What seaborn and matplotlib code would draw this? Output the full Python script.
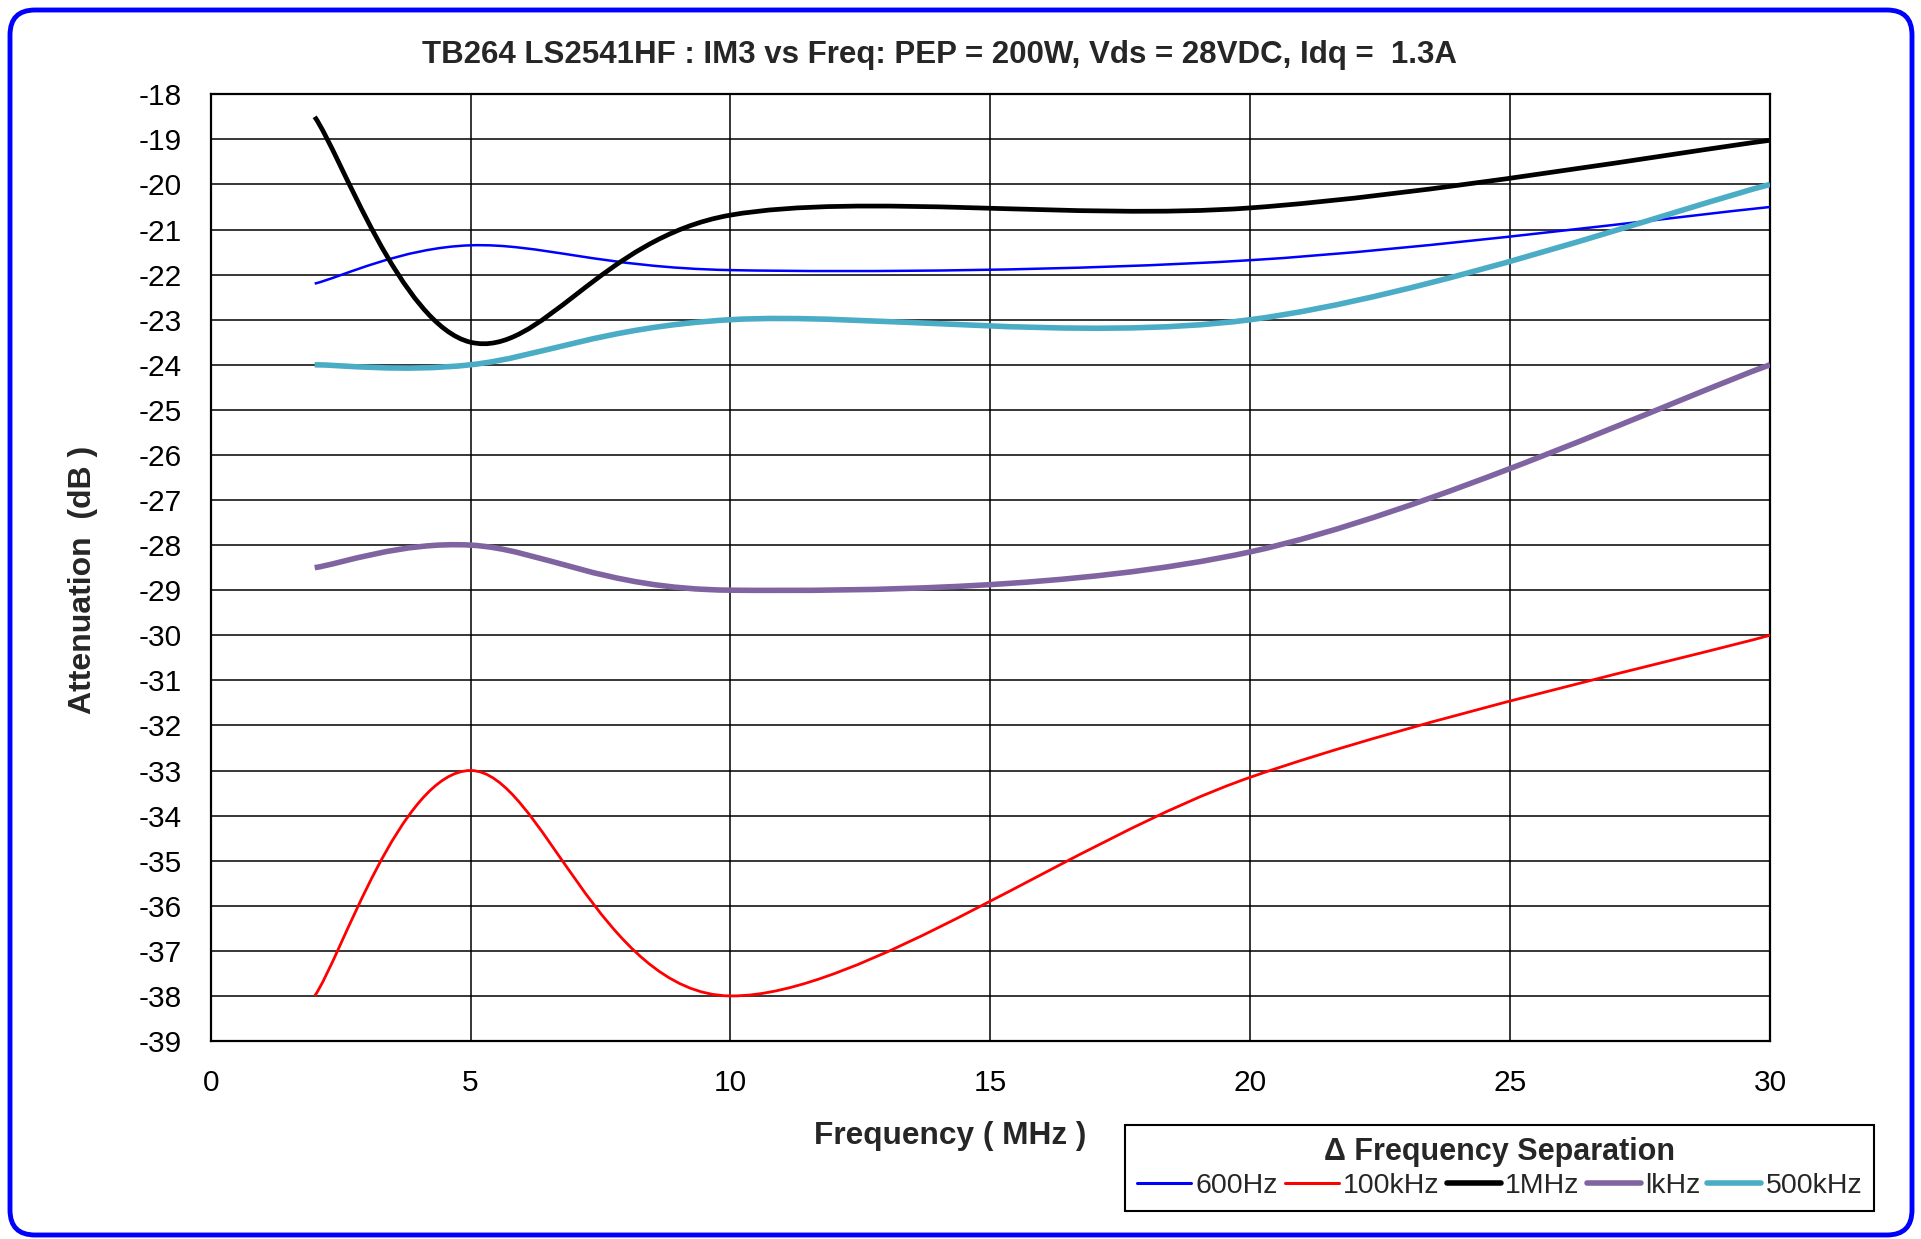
import numpy as np
import pandas as pd
import matplotlib
matplotlib.use("Agg")
import matplotlib.pyplot as plt
import seaborn as sns
from matplotlib.path import Path
from matplotlib.patches import PathPatch, FancyBboxPatch
from matplotlib.lines import Line2D

# Data (IM3 in dB at each test frequency)
freq_mhz = [2, 5, 10, 20, 30]
im3_600hz = [-22.2, -21.35, -21.9, -21.68, -20.5]
im3_100khz = [-38.0, -33.0, -38.0, -33.15, -30.0]
im3_1mhz = [-18.5, -23.5, -20.68, -20.52, -19.02]
im3_1khz = [-28.5, -28.0, -29.0, -28.15, -24.0]
im3_500khz = [-24.0, -24.0, -23.0, -23.0, -20.0]

series_names = ["600Hz", "100kHz", "1MHz", "lkHz", "500kHz"]
series_values = [im3_600hz, im3_100khz, im3_1mhz, im3_1khz, im3_500khz]

x_ticks = list(range(0, 31, 5))
y_ticks = list(range(-39, -17, 1))

df = pd.DataFrame({
    "Frequency": freq_mhz * len(series_names),
    "IM3": [v for vals in series_values for v in vals],
    "Separation": [n for n in series_names for _ in freq_mhz],
})

sns.set_theme(style="white")
plt.rcParams["font.family"] = ["Liberation Sans", "DejaVu Sans"]
plt.rcParams["axes.unicode_minus"] = False

palette = ["#0000FF", "#FF0000", "#000000", "#8064A2", "#4BACC6"]
widths = [1.8, 2.0, 3.4, 4.0, 4.0]
legend_widths = [2.2, 2.2, 4.0, 4.0, 4.0]


def smooth_path(x, y):
    # Excel-style smoothed line: cubic Bezier through the points (Catmull-Rom control points)
    pts = np.column_stack([x, y]).astype(float)
    n = len(pts)
    verts = [pts[0]]
    codes = [Path.MOVETO]
    for i in range(n - 1):
        p0 = pts[max(i - 1, 0)]
        p1 = pts[i]
        p2 = pts[i + 1]
        p3 = pts[min(i + 2, n - 1)]
        verts += [p1 + (p2 - p0) / 6, p2 - (p3 - p1) / 6, p2]
        codes += [Path.CURVE4] * 3
    return Path(verts, codes)


fig = plt.figure(figsize=(19.21, 12.39), dpi=100)
fig.patch.set_facecolor("white")
ax = fig.add_axes([0.1097, 0.1598, 0.9214 - 0.1097, 0.9239 - 0.1598])
ax.set_facecolor("white")

handles = []
for name, color, lw, llw in zip(series_names, palette, widths, legend_widths):
    sub = df[df["Separation"] == name]
    path = smooth_path(sub["Frequency"].values, sub["IM3"].values)
    ax.add_patch(PathPatch(path, facecolor="none", edgecolor=color, lw=lw,
                           zorder=3, capstyle="butt"))
    handles.append(Line2D([], [], color=color, lw=llw))

ax.set_xlim(0, 30)
ax.set_ylim(-39, -18)
ax.set_xticks(x_ticks)
ax.set_yticks(y_ticks)
ax.grid(True, color="black", lw=1.1)
ax.set_axisbelow(True)
for s in ax.spines.values():
    s.set_color("black")
    s.set_linewidth(1.6)
ax.tick_params(axis="both", length=0, labelsize=21.5, colors="black")
ax.tick_params(axis="y", pad=21)
ax.tick_params(axis="x", pad=20)
ax.set_xlabel("")
ax.set_ylabel("")

fig.text(0.4889, 0.956, "TB264 LS2541HF : IM3 vs Freq: PEP = 200W, Vds = 28VDC, Idq =  1.3A",
         ha="center", va="center", fontsize=22.5, fontweight="bold")
fig.text(0.0434, 0.532, "Attenuation  (dB )", rotation=90, ha="center", va="center",
         fontsize=23, fontweight="bold")
fig.text(0.4945, 0.0832, "Frequency ( MHz )", ha="center", va="center",
         fontsize=22.8, fontweight="bold")

leg = fig.legend(handles, series_names, loc="upper left",
                 bbox_to_anchor=(1125 / 1921, 1 - 1125 / 1239),
                 bbox_transform=fig.transFigure, borderaxespad=0, ncol=5,
                 fontsize=20.5, title="\u0394 Frequency Separation",
                 handlelength=1.9, handletextpad=0.15, columnspacing=0.25,
                 borderpad=0.42, labelspacing=0.2, frameon=True, fancybox=False,
                 framealpha=1)
leg.get_title().set_fontsize(22)
leg.get_title().set_fontweight("bold")
leg.get_frame().set_edgecolor("black")
leg.get_frame().set_linewidth(1.5)

frame = FancyBboxPatch((0.10, 0.04), 19.02, 12.25,
                       boxstyle="round,pad=0,rounding_size=0.25",
                       transform=fig.dpi_scale_trans, facecolor="none",
                       edgecolor="#0000FF", lw=3.5)
fig.patches.append(frame)

fig.savefig("out.png", dpi=100)
